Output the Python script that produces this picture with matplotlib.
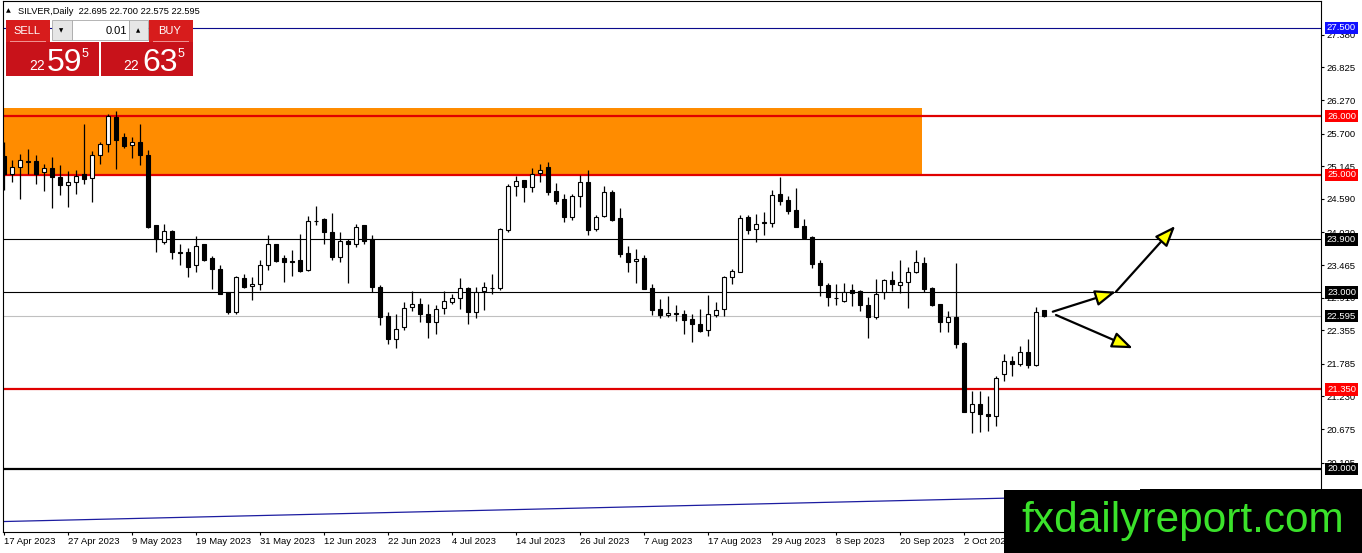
import matplotlib
matplotlib.use('Agg')
import matplotlib.pyplot as plt
from matplotlib.patches import Rectangle

# ---------------- data ----------------
opens = [25.32, 25.01, 25.14, 25.24, 25.23, 25.04, 25.11, 24.96, 24.82, 24.88,
         25.02, 24.94, 25.33, 25.52, 25.99, 25.65, 25.50, 25.56, 25.34, 24.15,
         23.86, 24.04, 23.68, 23.69, 23.46, 23.82, 23.58, 23.39, 23.00, 22.67,
         23.24, 23.11, 23.14, 23.47, 23.82, 23.59, 23.53, 23.55, 23.38, 24.22,
         24.24, 24.03, 23.61, 23.88, 23.82, 24.14, 23.90, 23.09, 22.60, 22.20,
         22.41, 22.75, 22.81, 22.64, 22.50, 22.73, 22.84, 22.90, 23.07, 22.66,
         23.02, 23.08, 23.07, 24.06, 24.81, 24.91, 24.79, 25.03, 25.13, 24.72,
         24.59, 24.29, 24.64, 24.87, 24.07, 24.30, 24.70, 24.26, 23.67, 23.53,
         23.58, 23.07, 22.71, 22.61, 22.64, 22.63, 22.55, 22.46, 22.36, 22.62,
         22.71, 23.26, 23.35, 24.28, 24.07, 24.18, 24.18, 24.67, 24.57, 24.40,
         24.13, 23.94, 23.50, 23.13, 22.91, 22.86, 23.04, 23.02, 22.79, 22.59,
         23.01, 23.21, 23.13, 23.18, 23.35, 23.50, 23.07, 22.80, 22.49, 22.59,
         22.14, 20.97, 21.10, 20.94, 20.90, 21.61, 21.83, 21.78, 21.98, 21.77,
         22.695]
highs = [25.56, 25.26, 25.35, 25.44, 25.34, 25.19, 25.30, 25.17, 25.07, 25.09,
         25.87, 25.41, 25.56, 26.03, 26.08, 25.71, 25.65, 25.86, 25.42, 24.15,
         24.16, 24.06, 23.82, 23.75, 23.96, 23.83, 23.62, 23.47, 23.01, 23.28,
         23.32, 23.27, 23.55, 23.98, 23.83, 23.64, 23.72, 24.00, 24.30, 24.47,
         24.26, 24.35, 24.03, 23.90, 24.16, 24.14, 23.98, 23.13, 22.67, 22.63,
         22.83, 23.02, 22.90, 22.81, 22.79, 23.02, 22.98, 23.25, 23.09, 23.10,
         23.18, 23.32, 24.09, 24.84, 24.98, 24.91, 25.11, 25.18, 25.22, 24.86,
         24.67, 24.67, 25.00, 25.09, 24.32, 24.81, 24.74, 24.43, 23.79, 23.73,
         23.64, 23.15, 22.88, 22.94, 22.79, 22.70, 22.63, 22.71, 22.96, 22.83,
         23.28, 23.39, 24.32, 24.32, 24.33, 24.37, 24.74, 24.97, 24.64, 24.77,
         24.24, 23.96, 23.55, 23.16, 23.14, 23.16, 23.14, 23.04, 22.93, 23.22,
         23.22, 23.37, 23.55, 23.43, 23.72, 23.60, 23.09, 22.81, 22.68, 23.50,
         22.16, 21.32, 21.33, 21.24, 21.57, 21.95, 21.91, 22.09, 22.21, 22.75,
         22.700]
lows = [24.75, 24.88, 24.59, 25.01, 24.85, 24.73, 24.44, 24.66, 24.46, 24.67,
        24.84, 24.53, 25.19, 25.39, 25.10, 25.45, 25.28, 25.17, 24.09, 23.68,
        23.83, 23.57, 23.47, 23.27, 23.34, 23.53, 23.05, 22.97, 22.64, 22.64,
        23.08, 22.87, 23.04, 23.38, 23.52, 23.18, 23.28, 23.35, 23.37, 24.15,
        23.82, 23.55, 23.52, 23.16, 23.77, 23.83, 23.00, 22.44, 22.12, 22.05,
        22.36, 22.69, 22.50, 22.22, 22.29, 22.64, 22.81, 22.71, 22.46, 22.56,
        22.70, 22.97, 23.04, 24.03, 24.64, 24.54, 24.71, 24.88, 24.65, 24.50,
        24.20, 24.23, 24.46, 23.98, 24.05, 24.28, 24.22, 23.60, 23.34, 23.16,
        23.05, 22.61, 22.57, 22.58, 22.51, 22.29, 22.16, 22.32, 22.25, 22.58,
        22.60, 23.14, 23.35, 23.99, 23.86, 23.98, 24.12, 24.48, 24.33, 24.11,
        23.91, 23.42, 22.94, 22.77, 22.79, 22.83, 22.77, 22.68, 22.23, 22.55,
        22.89, 23.02, 22.99, 22.74, 23.33, 23.00, 22.77, 22.33, 22.33, 22.05,
        20.97, 20.61, 20.62, 20.64, 20.73, 21.50, 21.58, 21.74, 21.71, 21.75,
        22.575]
closes = [25.01, 25.13, 25.25, 25.22, 25.01, 25.11, 24.96, 24.82, 24.88, 24.98,
          24.93, 25.34, 25.52, 26.00, 25.60, 25.49, 25.56, 25.33, 24.12, 23.90,
          24.04, 23.68, 23.67, 23.44, 23.79, 23.55, 23.39, 22.98, 22.67, 23.26,
          23.10, 23.14, 23.47, 23.82, 23.54, 23.51, 23.52, 23.37, 24.21, 24.21,
          24.02, 23.61, 23.88, 23.82, 24.12, 23.88, 23.09, 22.59, 22.20, 22.37,
          22.73, 22.80, 22.64, 22.50, 22.71, 22.85, 22.90, 23.07, 22.67, 23.01,
          23.09, 23.07, 24.07, 24.81, 24.90, 24.79, 25.01, 25.09, 24.71, 24.56,
          24.29, 24.64, 24.88, 24.06, 24.28, 24.70, 24.23, 23.65, 23.51, 23.57,
          23.05, 22.70, 22.62, 22.65, 22.63, 22.53, 22.46, 22.34, 22.63, 22.70,
          23.26, 23.36, 24.26, 24.06, 24.16, 24.19, 24.66, 24.56, 24.39, 24.12,
          23.93, 23.48, 23.12, 22.92, 22.90, 23.01, 22.99, 22.78, 22.59, 22.97,
          23.21, 23.14, 23.17, 23.34, 23.51, 23.06, 22.78, 22.49, 22.58, 22.13,
          20.97, 21.10, 20.94, 20.90, 21.54, 21.84, 21.78, 21.98, 21.77, 22.66,
          22.595]

date_tick_bars = [0, 8, 16, 24, 32, 40, 48, 56, 64, 72, 80, 88, 96, 104, 112, 120]
date_labels = ["17 Apr 2023", "27 Apr 2023", "9 May 2023", "19 May 2023",
               "31 May 2023", "12 Jun 2023", "22 Jun 2023", "4 Jul 2023",
               "14 Jul 2023", "26 Jul 2023", "7 Aug 2023", "17 Aug 2023",
               "29 Aug 2023", "8 Sep 2023", "20 Sep 2023", "2 Oct 2023"]
price_ticks = [27.380, 26.825, 26.270, 25.700, 25.145, 24.590, 24.020,
               23.465, 22.910, 22.355, 21.785, 21.230, 20.675, 20.105]

# horizontal levels: (price, colour, width, tag background)
levels = [(27.500, '#0a0a8c', 0.8, '#1010ff'),
          (26.000, '#e00000', 1.6, '#ff0000'),
          (25.000, '#e00000', 1.6, '#ff0000'),
          (23.900, '#000000', 0.8, '#000000'),
          (23.000, '#000000', 0.8, '#000000'),
          (22.595, '#c0c0c0', 0.8, '#000000'),
          (21.350, '#e00000', 1.6, '#ff0000'),
          (20.000, '#000000', 1.6, '#000000')]

zone_bars = [-1.0, 114.75]
zone_prices = [25.0, 26.136]

trend_bars = [-1.0, 166.0]
trend_prices = [19.10, 19.63]

arrow_segments = [((131.1, 22.672), (139.0, 23.012)),
                  ((139.0, 23.012), (146.4, 24.13)),
                  ((131.5, 22.616), (141.1, 22.05))]

header = "SILVER,Daily  22.695 22.700 22.575 22.595"

# ---------------- figure ----------------
W, H = 1362, 553
plt.rcParams['font.family'] = ['Liberation Sans', 'DejaVu Sans']
fig = plt.figure(figsize=(W / 100, H / 100), dpi=100)
fig.patch.set_facecolor('white')


def fx(x):
    return x / W


def fy(y):
    return 1 - y / H


def rect(x0, y0, x1, y1, **kw):
    r = Rectangle((fx(x0), fy(y1)), (x1 - x0) / W, (y1 - y0) / H,
                  transform=fig.transFigure, **kw)
    fig.add_artist(r)
    return r


ax = fig.add_axes([fx(3), fy(532), fx(1321) - fx(3), fy(1) - fy(532)])
ax.set_xlim(-0.125, 164.625)
ax.set_ylim(18.925, 27.956)
ax.set_facecolor('white')

# zone
ax.add_patch(Rectangle((zone_bars[0], zone_prices[0]), zone_bars[1] - zone_bars[0],
                       zone_prices[1] - zone_prices[0], facecolor='#ff8c00',
                       edgecolor='none', zorder=0.5))

# levels
for p, c, lw, _ in levels:
    ax.axhline(p, color=c, lw=lw, zorder=1)

ax.plot(trend_bars, trend_prices, color='#1c1ca0', lw=0.9, zorder=1)

# candles
xs = list(range(len(opens)))
ax.vlines(xs, lows, highs, color='black', lw=0.9, zorder=2)
bottoms = [min(o, c) for o, c in zip(opens, closes)]
heights = [max(abs(c - o), 0.012) for o, c in zip(opens, closes)]
colors = ['white' if c > o else 'black' for o, c in zip(opens, closes)]
ax.bar(xs, heights, bottom=bottoms, width=0.62, color=colors,
       edgecolor='black', linewidth=0.8, zorder=3)

# arrows
for (x0, y0), (x1, y1) in arrow_segments:
    ax.annotate('', xy=(x1, y1), xytext=(x0, y0),
                arrowprops=dict(arrowstyle='-|>,head_length=0.9,head_width=0.35',
                                fc='#ffff00', ec='black', lw=1.6,
                                shrinkA=0, shrinkB=0, mutation_scale=14),
                zorder=4)

# axes styling
for s in ax.spines.values():
    s.set_color('black')
    s.set_linewidth(0.8)
ax.yaxis.tick_right()
ax.set_yticks(price_ticks)
ax.set_yticklabels([f"{v:.3f}" for v in price_ticks])
ax.set_xticks(date_tick_bars)
ax.set_xticklabels(date_labels)
for lbl in ax.get_xticklabels():
    lbl.set_ha('left')
ax.tick_params(axis='both', length=2.3, width=0.8, color='black',
               labelsize=6.8, pad=1.5)

# price tags on the right axis
for p, c, lw, tag in levels:
    ax.text(1.0 + 20.5 / 1318, p, f"{p:.3f}", transform=ax.get_yaxis_transform(),
            ha='center', va='center', fontsize=6.8, color='white',
            bbox=dict(boxstyle='square,pad=0.18', fc=tag, ec='none'),
            clip_on=False, zorder=6)

# header
fig.text(fx(6), fy(11), '\u25B2', fontsize=4.5, va='center', ha='left',
         family=['DejaVu Sans'])
fig.text(fx(18), fy(11), header, fontsize=6.7, va='center', ha='left')

# trade panel
red_top = '#d71c1c'
red_low = '#c8121a'
rect(6, 20, 50, 42, facecolor=red_top, edgecolor='none', zorder=10)
rect(149, 20, 193, 42, facecolor=red_top, edgecolor='none', zorder=10)
rect(51.5, 20.5, 71.5, 40, facecolor='#e6e6e6', edgecolor='#a8a8a8', lw=0.6, zorder=10)
rect(71.5, 20.5, 128.5, 40, facecolor='white', edgecolor='#a8a8a8', lw=0.6, zorder=10)
rect(128.5, 20.5, 148, 40, facecolor='#e6e6e6', edgecolor='#a8a8a8', lw=0.6, zorder=10)
rect(6, 42, 99, 76, facecolor=red_low, edgecolor='none', zorder=10)
rect(101, 42, 193, 76, facecolor=red_low, edgecolor='none', zorder=10)
rect(10, 41.2, 46, 42, facecolor='#f09090', edgecolor='none', zorder=11)
rect(153, 41.2, 189, 42, facecolor='#f09090', edgecolor='none', zorder=11)
fig.text(fx(27), fy(31), 'SELL', color='white', fontsize=8, ha='center', va='center', zorder=12)
fig.text(fx(170), fy(31), 'BUY', color='white', fontsize=8, ha='center', va='center', zorder=12)
fig.text(fx(127), fy(30.5), '0.01', color='black', fontsize=8, ha='right', va='center', zorder=12)
fig.text(fx(61.5), fy(30.5), '\u25BC', color='black', fontsize=4, ha='center', va='center',
         family=['DejaVu Sans'], zorder=12)
fig.text(fx(138), fy(30.5), '\u25B2', color='black', fontsize=4, ha='center', va='center',
         family=['DejaVu Sans'], zorder=12)
for x_small, x_big, x_sup, big in [(29, 47, 82, '59'), (123, 142, 178, '63')]:
    fig.text(fx(x_small), fy(70.5), '22', color='white', fontsize=10, ha='left',
             va='baseline', zorder=12)
    fig.text(fx(x_big), fy(71), big, color='white', fontsize=23, ha='left',
             va='baseline', zorder=12)
    fig.text(fx(x_sup), fy(57), '5', color='white', fontsize=9, ha='left',
             va='baseline', zorder=12)

# watermark
rect(1004, 490, 1362, 553, facecolor='black', edgecolor='none', zorder=20)
rect(1140, 488.5, 1362, 491, facecolor='black', edgecolor='none', zorder=20)
fig.text(fx(1183), fy(532), 'fxdailyreport.com', color='#3be22b', fontsize=30.5,
         ha='center', va='baseline', zorder=21)

fig.savefig('out.png', dpi=100)
